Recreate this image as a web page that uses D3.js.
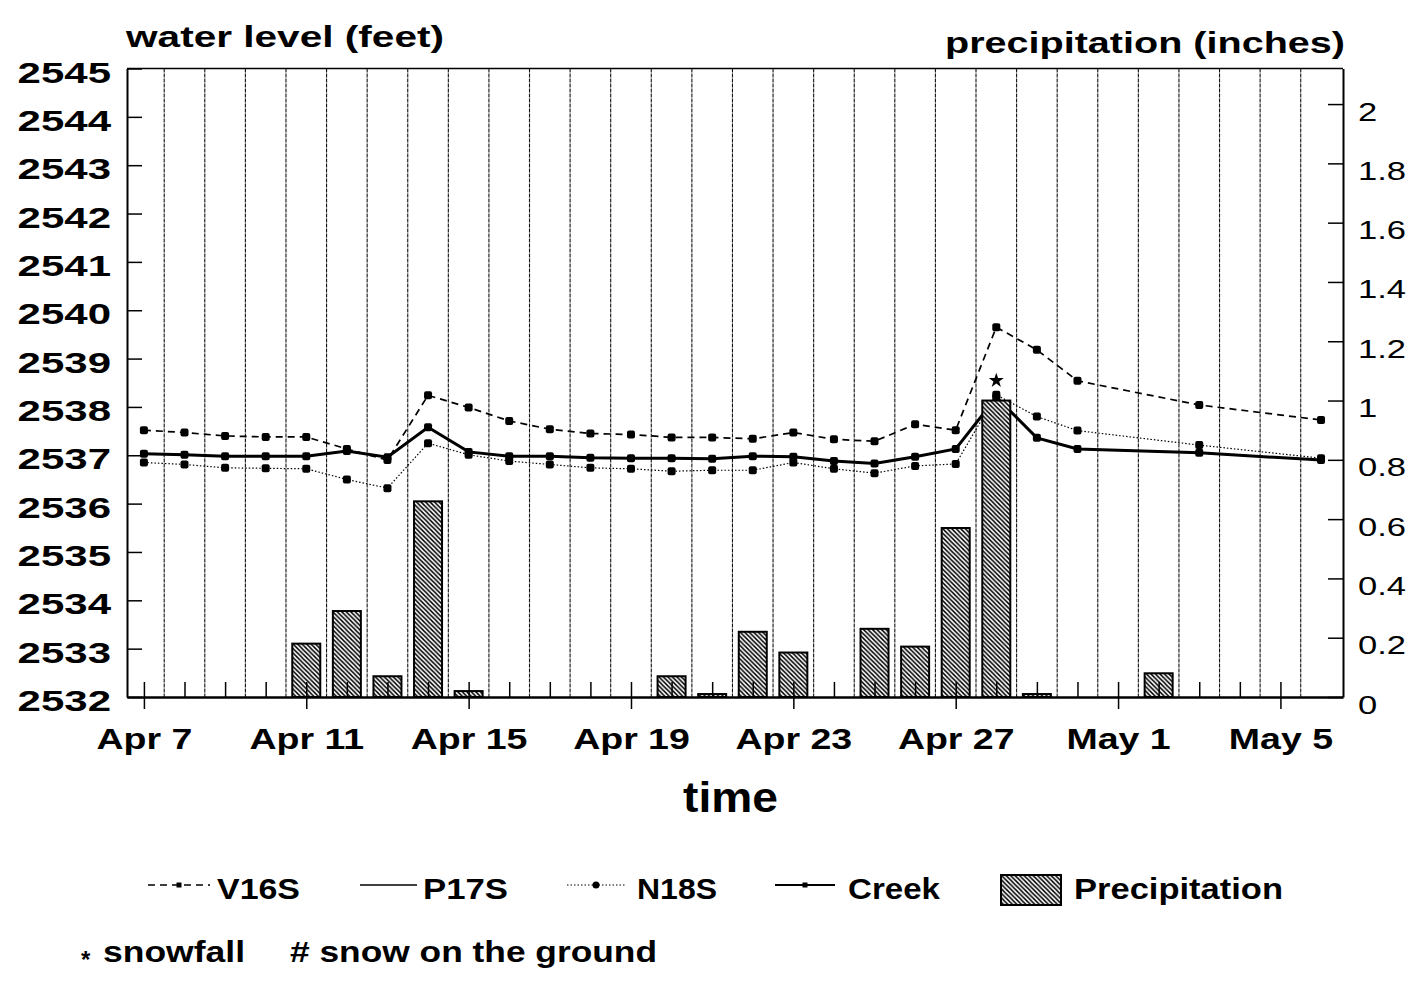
<!DOCTYPE html>
<html>
<head>
<meta charset="utf-8">
<script src="https://cdn.jsdelivr.net/npm/d3@7"></script>
<style>
	body { margin: 0; background: #fff; }
	svg text { font-family: "Liberation Sans", Arial, Helvetica, sans-serif; fill: #000; }
</style>
</head>
<body>
<div id="chart"></div>
<script>
// readings (year is not shown on the chart)
var year = "1990-";
var days = ["04-07","04-08","04-09","04-10","04-11","04-12","04-13","04-14","04-15","04-16",
	"04-17","04-18","04-19","04-20","04-21","04-22","04-23","04-24","04-25","04-26",
	"04-27","04-28","04-29","04-30","05-03","05-06"];

var v16s = [2537.52,2537.47,2537.40,2537.38,2537.38,2537.13,2536.90,2538.24,2537.99,2537.71,
	2537.54,2537.45,2537.43,2537.37,2537.37,2537.34,2537.47,2537.33,2537.29,2537.64,
	2537.52,2539.65,2539.18,2538.54,2538.04,2537.73];
var p17s = [2537.03,2537.01,2536.98,2536.98,2536.98,2537.09,2536.96,2537.58,2537.07,2536.98,
	2536.98,2536.95,2536.94,2536.94,2536.93,2536.98,2536.97,2536.88,2536.83,2536.97,
	2537.13,2538.20,2537.36,2537.13,2537.05,2536.90];
var n18s = [2536.85,2536.81,2536.74,2536.73,2536.72,2536.50,2536.32,2537.25,2537.01,2536.88,
	2536.81,2536.74,2536.72,2536.67,2536.69,2536.69,2536.85,2536.72,2536.63,2536.78,
	2536.82,2538.25,2537.80,2537.51,2537.21,2536.94];
var creek = [2537.03,2537.01,2536.98,2536.98,2536.98,2537.09,2536.96,2537.58,2537.07,2536.98,
	2536.98,2536.95,2536.94,2536.94,2536.93,2536.98,2536.97,2536.88,2536.83,2536.97,
	2537.13,2538.20,2537.36,2537.13,2537.05,2536.90];

var precipDays = ["04-11","04-12","04-13","04-14","04-15","04-20","04-21","04-22","04-23",
	"04-25","04-26","04-27","04-28","04-29","05-02"];
var precip = [0.18,0.29,0.07,0.66,0.02,0.07,0.01,0.22,0.15,0.23,0.17,0.57,1.0,0.01,0.08];

var snowDays = ["04-28"];

var dateTicks = ["04-07","04-11","04-15","04-19","04-23","04-27","05-01","05-05"];
var levelTicks = [2532,2533,2534,2535,2536,2537,2538,2539,2540,2541,2542,2543,2544,2545];
var precipTicks = [0,0.2,0.4,0.6,0.8,1,1.2,1.4,1.6,1.8,2];

var parse = d3.timeParse("%Y-%m-%d");
function day(s) { return parse(year + s); }

var width = 1421, height = 981;
var plotL = 127, plotR = 1343, plotT = 68.5, plotB = 697;

var svg = d3.select("#chart").append("svg")
	.attr("width", width)
	.attr("height", height);

var defs = svg.append("defs");
var hatch = defs.append("pattern")
	.attr("id", "hatch")
	.attr("patternUnits", "userSpaceOnUse")
	.attr("width", 4.5)
	.attr("height", 4.5);
hatch.append("rect").attr("width", 4.5).attr("height", 4.5).attr("fill", "#fff");
hatch.append("path")
	.attr("d", "M0,0L4.5,4.5M-1,3.5L1,5.5M3.5,-1L5.5,1")
	.attr("stroke", "#000")
	.attr("stroke-width", 1.5);

var x = d3.scaleTime()
	.domain([d3.timeHour.offset(day("04-07"), -10), d3.timeHour.offset(day("05-06"), 13)])
	.range([plotL, plotR]);
var yL = d3.scaleLinear().domain([2532, 2545]).range([plotB, plotT]);
var yR = d3.scaleLinear().domain([0, 2.12]).range([plotB, plotT]);

// stretch text horizontally like the original typeface
function stretch(sel, sx) {
	sel.each(function() {
		var t = d3.select(this);
		var tx = +t.attr("x") || 0;
		t.attr("x", tx / sx).attr("transform", "scale(" + sx + ",1)");
	});
}

// vertical grid between days
var allDays = d3.timeDay.range(day("04-07"), d3.timeDay.offset(day("05-06"), 1));
svg.append("g")
	.selectAll("line")
	.data(allDays.slice(0, -1))
	.enter()
	.append("line")
	.attr("x1", function(d) { return x(d3.timeHour.offset(d, 12)); })
	.attr("x2", function(d) { return x(d3.timeHour.offset(d, 12)); })
	.attr("y1", plotT)
	.attr("y2", plotB)
	.attr("stroke", "#111")
	.attr("stroke-width", 1.1)
	.attr("stroke-dasharray", "4,1");

// series
var series = [
	{name: "V16S", values: v16s, width: 1.7, dash: "7,5", marker: true},
	{name: "P17S", values: p17s, width: 1.5, dash: null, marker: false},
	{name: "N18S", values: n18s, width: 1.2, dash: "1.5,2", marker: true},
	{name: "Creek", values: creek, width: 3, dash: null, marker: true}
];

var line = d3.line()
	.x(function(d) { return x(d.date); })
	.y(function(d) { return yL(d.value); });

series.forEach(function(s) {
	var pts = days.map(function(d, i) { return {date: day(d), value: s.values[i]}; });
	svg.append("path")
		.datum(pts)
		.attr("d", line)
		.attr("fill", "none")
		.attr("stroke", "#000")
		.attr("stroke-width", s.width)
		.attr("stroke-dasharray", s.dash);
	if (s.marker) {
		svg.append("g")
			.selectAll("rect")
			.data(pts)
			.enter()
			.append("rect")
			.attr("x", function(d) { return x(d.date) - 4; })
			.attr("y", function(d) { return yL(d.value) - 4; })
			.attr("width", 8)
			.attr("height", 8)
			.attr("rx", 2)
			.attr("fill", "#000");
	}
});

// precipitation bars on top of lines
var barW = (x(day("04-08")) - x(day("04-07"))) * 0.69;
var bars = precipDays.map(function(d, i) { return {date: day(d), value: precip[i]}; });
svg.append("g")
	.selectAll("rect")
	.data(bars)
	.enter()
	.append("rect")
	.attr("x", function(d) { return x(d.date) - barW / 2; })
	.attr("y", function(d) { return yR(d.value); })
	.attr("width", barW)
	.attr("height", function(d) { return plotB - yR(d.value); })
	.attr("fill", "url(#hatch)")
	.attr("stroke", "#000")
	.attr("stroke-width", 2);

// snowfall marks above the bar of that day
svg.append("g")
	.selectAll("path")
	.data(snowDays)
	.enter()
	.append("path")
	.attr("d", d3.symbol(d3.symbolStar).size(70))
	.attr("transform", function(d) {
		var i = precipDays.indexOf(d);
		var v = i >= 0 ? precip[i] : 0;
		return "translate(" + x(day(d)) + "," + (yR(v) - 20) + ")";
	})
	.attr("fill", "#000");

// axes
var minor = svg.append("g")
	.attr("transform", "translate(0," + plotB + ")")
	.call(d3.axisBottom(x).tickValues(allDays.slice(0, -1)).tickSize(-15).tickFormat(""));
minor.select(".domain").remove();
minor.selectAll("line").attr("stroke-width", 1.5);

var xAxis = svg.append("g")
	.attr("transform", "translate(0," + plotB + ")")
	.call(d3.axisBottom(x)
		.tickValues(dateTicks.map(day))
		.tickSize(12)
		.tickSizeOuter(0)
		.tickPadding(19)
		.tickFormat(d3.timeFormat("%b %-d")));
xAxis.select(".domain").attr("stroke-width", 2.5);
xAxis.selectAll("line").attr("stroke-width", 1.5);
xAxis.selectAll("text")
	.style("font-size", "30px")
	.style("font-weight", "bold")
	.call(stretch, 1.25);

var yAxisL = svg.append("g")
	.attr("transform", "translate(" + plotL + ",0)")
	.call(d3.axisLeft(yL).tickValues(levelTicks).tickSize(-15).tickSizeOuter(0)
		.tickPadding(16).tickFormat(d3.format("d")));
yAxisL.select(".domain").attr("stroke-width", 2);
yAxisL.selectAll("line").attr("stroke-width", 1.5);
yAxisL.selectAll("text")
	.attr("dy", "13.5px")
	.style("font-size", "30px")
	.style("font-weight", "bold")
	.call(stretch, 1.4);

var yAxisR = svg.append("g")
	.attr("transform", "translate(" + plotR + ",0)")
	.call(d3.axisRight(yR).tickValues(precipTicks).tickSize(-15).tickSizeOuter(0)
		.tickPadding(15).tickFormat(d3.format("")));
yAxisR.select(".domain").attr("stroke-width", 2);
yAxisR.selectAll("line").attr("stroke-width", 1.5);
yAxisR.selectAll("text")
	.attr("dy", "16px")
	.style("font-size", "26px")
	.call(stretch, 1.33);

// top frame line
svg.append("line")
	.attr("x1", plotL).attr("x2", plotR)
	.attr("y1", plotT).attr("y2", plotT)
	.attr("stroke", "#000")
	.attr("stroke-width", 1.5);

// titles
svg.append("text")
	.attr("x", 126).attr("y", 47)
	.attr("textLength", 318).attr("lengthAdjust", "spacingAndGlyphs")
	.style("font-size", "30px").style("font-weight", "bold")
	.text("water level (feet)");
svg.append("text")
	.attr("x", 945).attr("y", 53)
	.attr("textLength", 400).attr("lengthAdjust", "spacingAndGlyphs")
	.style("font-size", "30px").style("font-weight", "bold")
	.text("precipitation (inches)");
svg.append("text")
	.attr("x", 683).attr("y", 812)
	.attr("textLength", 95).attr("lengthAdjust", "spacingAndGlyphs")
	.style("font-size", "42px").style("font-weight", "bold")
	.text("time");

// legend
var legendY = 885;
var legendPos = [
	{x0: 148, x1: 210, tx: 217, tw: 83, mark: "square"},
	{x0: 360, x1: 417, tx: 423, tw: 85, mark: null},
	{x0: 567, x1: 625, tx: 637, tw: 80, mark: "circle"},
	{x0: 775, x1: 835, tx: 848, tw: 92, mark: "square"}
];
var legend = svg.append("g");
series.forEach(function(s, i) {
	var p = legendPos[i];
	legend.append("line")
		.attr("x1", p.x0).attr("x2", p.x1)
		.attr("y1", legendY).attr("y2", legendY)
		.attr("stroke", "#000")
		.attr("stroke-width", Math.min(s.width, 2))
		.attr("stroke-dasharray", s.dash);
	if (p.mark === "square") {
		legend.append("rect")
			.attr("x", (p.x0 + p.x1) / 2 - 2.5).attr("y", legendY - 2.5)
			.attr("width", 5).attr("height", 5).attr("fill", "#000");
	} else if (p.mark === "circle") {
		legend.append("circle")
			.attr("cx", (p.x0 + p.x1) / 2).attr("cy", legendY)
			.attr("r", 3.5).attr("fill", "#000");
	}
	legend.append("text")
		.attr("x", p.tx).attr("y", 899)
		.attr("textLength", p.tw).attr("lengthAdjust", "spacingAndGlyphs")
		.style("font-size", "29px").style("font-weight", "bold")
		.text(s.name);
});
legend.append("rect")
	.attr("x", 1001).attr("y", 875)
	.attr("width", 60).attr("height", 30)
	.attr("fill", "url(#hatch)")
	.attr("stroke", "#000")
	.attr("stroke-width", 2);
legend.append("text")
	.attr("x", 1074).attr("y", 899)
	.attr("textLength", 209).attr("lengthAdjust", "spacingAndGlyphs")
	.style("font-size", "29px").style("font-weight", "bold")
	.text("Precipitation");

legend.append("text")
	.attr("x", 81).attr("y", 968)
	.style("font-size", "24px").style("font-weight", "bold")
	.text("*");
legend.append("text")
	.attr("x", 103).attr("y", 962)
	.attr("textLength", 142).attr("lengthAdjust", "spacingAndGlyphs")
	.style("font-size", "29px").style("font-weight", "bold")
	.text("snowfall");
legend.append("text")
	.attr("x", 290).attr("y", 962)
	.attr("textLength", 367).attr("lengthAdjust", "spacingAndGlyphs")
	.style("font-size", "29px").style("font-weight", "bold")
	.text("# snow on the ground");
</script>
</body>
</html>
